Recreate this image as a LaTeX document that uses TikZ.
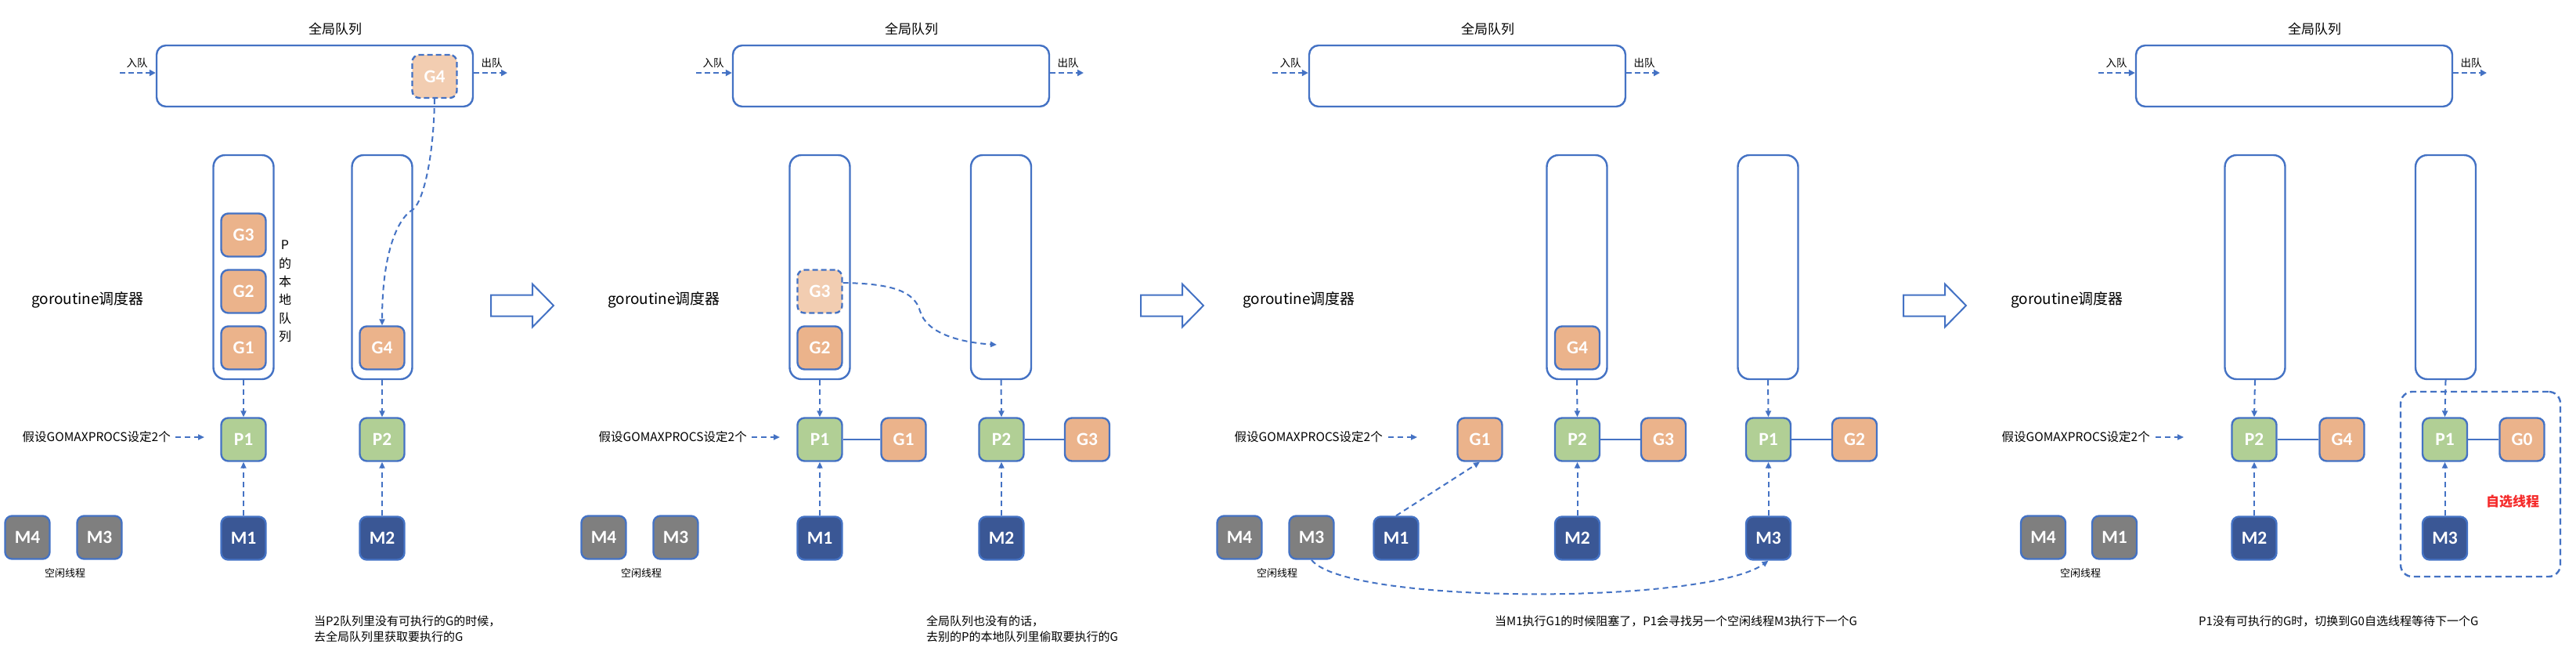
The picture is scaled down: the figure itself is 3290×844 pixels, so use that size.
\documentclass[tikz,border=0pt]{standalone}
\usepackage{fontspec}
\setmainfont{Noto Sans CJK SC}
\newfontfamily\lblfont{Carlito}
\usetikzlibrary{arrows.meta}
\definecolor{qblue}{HTML}{4472C4}
\definecolor{gorange}{HTML}{EBB38B}
\definecolor{glight}{HTML}{F2CDB1}
\definecolor{pgreen}{HTML}{B1CF95}
\definecolor{mblue}{HTML}{3A5795}
\definecolor{mgray}{HTML}{7F7F7F}
\definecolor{selred}{HTML}{F52A2A}
\tikzset{
  box/.style={draw=qblue, line width=2.4pt, rounded corners=9pt, minimum width=57pt, minimum height=55pt, inner sep=0pt, text=white, font=\lblfont\bfseries\fontsize{23.5}{25}\selectfont},
  gbox/.style={box, fill=gorange},
  glbox/.style={box, fill=glight, dash pattern=on 7pt off 4pt},
  pbox/.style={box, fill=pgreen},
  mbox/.style={box, fill=mblue},
  mgbox/.style={box, fill=mgray},
  lqueue/.style={draw=qblue, line width=2.4pt, rounded corners=15pt, minimum width=77pt, minimum height=286pt, inner sep=0pt},
  gqueue/.style={draw=qblue, line width=2.4pt, rounded corners=12pt, minimum width=404pt, minimum height=78pt, inner sep=0pt},
  selbox/.style={draw=qblue, line width=2.4pt, rounded corners=15pt, dash pattern=on 8pt off 5pt, minimum width=204pt, minimum height=236pt, inner sep=0pt},
  darrow/.style={draw=qblue, line width=2pt, dash pattern=on 7pt off 5pt, -{Triangle[length=8pt,width=7pt]}},
  ioarrow/.style={draw=qblue, line width=2.6pt, dash pattern=on 7pt off 4pt, -{Triangle[length=8pt,width=8pt]}},
  link/.style={draw=qblue, line width=2.4pt},
  title/.style={font=\fontsize{17}{20}\selectfont, inner sep=0pt},
  iolbl/.style={font=\fontsize{13.5}{16}\selectfont, inner sep=0pt},
  sched/.style={font=\fontsize{19}{22}\selectfont, inner sep=0pt, anchor=west},
  gomax/.style={font=\fontsize{15.5}{18}\selectfont, inner sep=0pt, anchor=east},
  idle/.style={font=\fontsize{13}{16}\selectfont, inner sep=0pt},
  caption/.style={font=\fontsize{15}{18}\selectfont, inner sep=0pt, anchor=west},
  hollow/.pic={\draw[qblue, line width=2pt, fill=white, line join=miter] (0,-13.5)--(53,-13.5)--(53,-27.5)--(80,0)--(53,27.5)--(53,13.5)--(0,13.5)--cycle;}
}
\begin{document}
\begin{tikzpicture}[x=1pt,y=-1pt]
\useasboundingbox[fill=white] (0,0) rectangle (3290,844);

% ================= Panel 1 =================
\node[gqueue] (gq1) at (402,97) {};
\node[title] (t1) at (428,37) {全局队列};
\node[iolbl] (in1l) at (175,80) {入队};
\node[iolbl] (out1l) at (628,80) {出队};
\coordinate (in1) at (153,93);
\coordinate (out1) at (648,93);
\draw[ioarrow] (in1) -- (in1 -| gq1.west);
\draw[ioarrow] (out1 -| gq1.east) -- (out1);
\node[glbox] (gg4) at (555,97.5) {G4};
\node[lqueue] (q11) at (311,341) {};
\node[lqueue] (q12) at (488,341) {};
\node[gbox] (g13) at (311,300) {G3};
\node[gbox] (g12) at (311,372) {G2};
\node[gbox] (g11) at (311,444) {G1};
\node[gbox] (g14) at (488,444) {G4};
\node[font=\fontsize{16}{23.4}\selectfont, align=center, inner sep=0pt] (plq) at (364,372) {P\\的\\本\\地\\队\\列};
\node[sched] (s1) at (40,383) {goroutine调度器};
\node[pbox] (p11) at (311,561) {P1};
\node[pbox] (p12) at (488,561) {P2};
\node[mbox] (m11) at (311,687) {M1};
\node[mbox] (m12) at (488,687) {M2};
\node[mgbox] (m14) at (35,686) {M4};
\node[mgbox] (m13) at (127,686) {M3};
\node[idle] (id1) at (83,732) {空闲线程};
\node[gomax] (gm1) at (218,558) {假设GOMAXPROCS设定2个};
\coordinate (gm1e) at (261,558);
\draw[darrow, line width=2.4pt] ([xshift=6pt]gm1.east) -- (gm1e);
\draw[darrow] (q11.south) -- (p11.north);
\draw[darrow] (q12.south) -- (p12.north);
\draw[darrow] (m11.north) -- (p11.south);
\draw[darrow] (m12.north) -- (p12.south);
\draw[darrow] (gg4.south) .. controls (554,200) and (541,255) .. (528,267) .. controls (505,280) and (488,330) .. (g14.north);
\node[caption] (c1a) at (401,793) {当P2队列里没有可执行的G的时候，};
\node[caption] (c1b) at (401,813) {去全局队列里获取要执行的G};
\pic at (627,390) {hollow};

% ================= Panel 2 =================
\node[gqueue] (gq2) at (1138,97) {};
\node[title] (t2) at (1164,37) {全局队列};
\node[iolbl] (in2l) at (911,80) {入队};
\node[iolbl] (out2l) at (1364,80) {出队};
\coordinate (in2) at (889,93);
\coordinate (out2) at (1384,93);
\draw[ioarrow] (in2) -- (in2 -| gq2.west);
\draw[ioarrow] (out2 -| gq2.east) -- (out2);
\node[lqueue] (q21) at (1047,341) {};
\node[lqueue] (q22) at (1278.5,341) {};
\node[glbox] (g23l) at (1047,372) {G3};
\node[gbox] (g22) at (1047,444) {G2};
\node[sched] (s2) at (776,383) {goroutine调度器};
\node[pbox] (p21) at (1047,561) {P1};
\node[gbox] (g21) at (1154,561) {G1};
\node[pbox] (p22) at (1279,561) {P2};
\node[gbox] (g23) at (1388.5,561) {G3};
\draw[link] (p21) -- (g21);
\draw[link] (p22) -- (g23);
\node[mgbox] (m24) at (771,686) {M4};
\node[mgbox] (m23) at (863,686) {M3};
\node[mbox] (m21) at (1047,687) {M1};
\node[mbox] (m22) at (1279,687) {M2};
\node[idle] (id2) at (819,732) {空闲线程};
\node[gomax] (gm2) at (954,558) {假设GOMAXPROCS设定2个};
\coordinate (gm2e) at (996,558);
\draw[darrow, line width=2.4pt] ([xshift=6pt]gm2.east) -- (gm2e);
\draw[darrow] (q21.south) -- (p21.north);
\draw[darrow] (q22.south) -- (p22.north);
\draw[darrow] (m21.north) -- (p21.south);
\draw[darrow] (m22.north) -- (p22.south);
\coordinate (st2) at (1273,440);
\draw[darrow] ([yshift=11pt]g23l.east) .. controls (1140,362) and (1168,372) .. (1175,397) .. controls (1183,425) and (1225,437) .. (st2);
\node[caption] (c2a) at (1183,793) {全局队列也没有的话，};
\node[caption] (c2b) at (1183,813) {去别的P的本地队列里偷取要执行的G};
\pic at (1457,390) {hollow};

% ================= Panel 3 =================
\node[gqueue] (gq3) at (1874,97) {};
\node[title] (t3) at (1900,37) {全局队列};
\node[iolbl] (in3l) at (1648,80) {入队};
\node[iolbl] (out3l) at (2100,80) {出队};
\coordinate (in3) at (1625,93);
\coordinate (out3) at (2120,93);
\draw[ioarrow] (in3) -- (in3 -| gq3.west);
\draw[ioarrow] (out3 -| gq3.east) -- (out3);
\node[lqueue] (q31) at (2014,341) {};
\node[lqueue] (q32) at (2258,341) {};
\node[gbox] (g34) at (2014.5,444) {G4};
\node[sched] (s3) at (1587,383) {goroutine调度器};
\node[gbox] (g31) at (1890,561) {G1};
\node[pbox] (p32) at (2014.5,561) {P2};
\node[gbox] (g33) at (2124.5,561) {G3};
\node[pbox] (p31) at (2258.5,561) {P1};
\node[gbox] (g32) at (2368.5,561) {G2};
\draw[link] (p32) -- (g33);
\draw[link] (p31) -- (g32);
\node[mgbox] (m34) at (1583,686) {M4};
\node[mgbox] (m33) at (1675,686) {M3};
\node[mbox] (m31) at (1783,687) {M1};
\node[mbox] (m32) at (2014.5,687) {M2};
\node[mbox] (m33b) at (2258.5,687) {M3};
\node[idle] (id3) at (1631,732) {空闲线程};
\node[gomax] (gm3) at (1766,558) {假设GOMAXPROCS设定2个};
\coordinate (gm3e) at (1810,558);
\draw[darrow, line width=2.4pt] ([xshift=7pt]gm3.east) -- (gm3e);
\draw[darrow] (q31.south) -- (p32.north);
\draw[darrow] (q32.south) -- (p31.north);
\draw[darrow] (m32.north) -- (p32.south);
\draw[darrow] (m33b.north) -- (p31.south);
\draw[darrow] (m31.north) -- (g31.south);
\draw[darrow] (m33.south) .. controls (1720,772) and (2180,772) .. (m33b.south);
\node[caption] (c3a) at (1909,793) {当M1执行G1的时候阻塞了，P1会寻找另一个空闲线程M3执行下一个G};
\pic at (2431,390) {hollow};

% ================= Panel 4 =================
\node[gqueue] (gq4) at (2930,97) {};
\node[title] (t4) at (2956,37) {全局队列};
\node[iolbl] (in4l) at (2703,80) {入队};
\node[iolbl] (out4l) at (3156,80) {出队};
\coordinate (in4) at (2680,93);
\coordinate (out4) at (3176,93);
\draw[ioarrow] (in4) -- (in4 -| gq4.west);
\draw[ioarrow] (out4 -| gq4.east) -- (out4);
\node[lqueue] (q41) at (2880,341) {};
\node[lqueue] (q42) at (3123.5,341) {};
\node[sched] (s4) at (2568,383) {goroutine调度器};
\node[selbox] (sel) at (3168,618) {};
\node[pbox] (p42) at (2879,561) {P2};
\node[gbox] (g44) at (2991,561) {G4};
\node[pbox] (p41) at (3122.5,561) {P1};
\node[gbox] (g40) at (3221,561) {G0};
\draw[link] (p42) -- (g44);
\draw[link] (p41) -- (g40);
\node[mgbox] (m44) at (2609.5,686) {M4};
\node[mgbox] (m41) at (2700.5,686) {M1};
\node[mbox] (m42) at (2879,687) {M2};
\node[mbox] (m43) at (3122.5,687) {M3};
\node[idle] (id4) at (2657,732) {空闲线程};
\node[font=\bfseries\fontsize{17}{20}\selectfont, text=selred, inner sep=0pt] (selt) at (3209,640) {自选线程};
\node[gomax] (gm4) at (2746,558) {假设GOMAXPROCS设定2个};
\coordinate (gm4e) at (2789,558);
\draw[darrow, line width=2.4pt] ([xshift=7pt]gm4.east) -- (gm4e);
\draw[darrow] (q41.south) -- (p42.north);
\draw[darrow] (q42.south) -- (p41.north);
\draw[darrow] (m42.north) -- (p42.south);
\draw[darrow] (m43.north) -- (p41.south);
\node[caption] (c4a) at (2808,793) {P1没有可执行的G时，切换到G0自选线程等待下一个G};
\end{tikzpicture}
\end{document}
